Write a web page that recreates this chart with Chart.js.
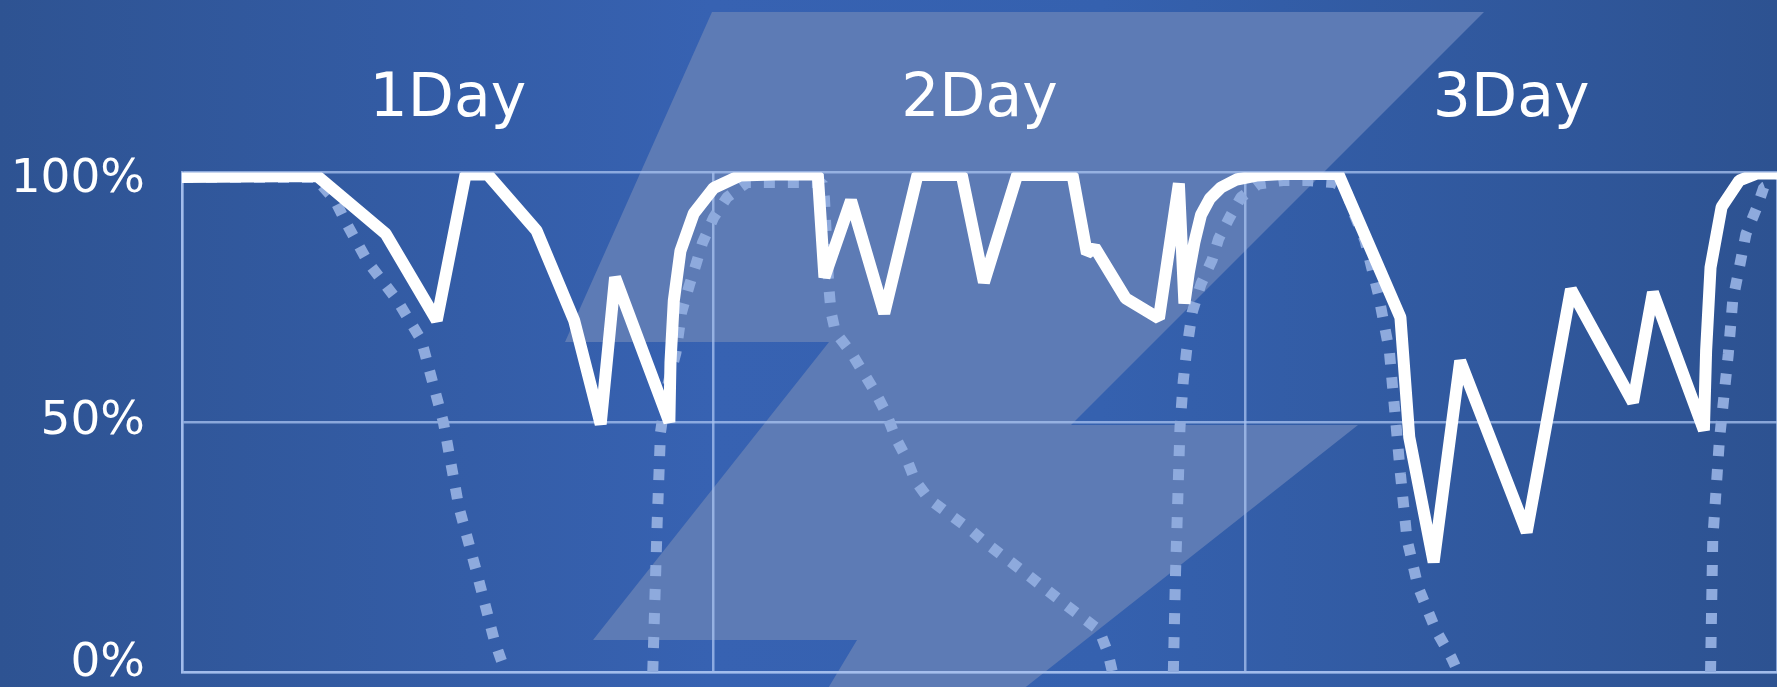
<!DOCTYPE html>
<html lang="en">
<head>
  <meta charset="UTF-8">
  <meta name="viewport" content="width=device-width, initial-scale=1.0">
  <title>Chart</title>
  <script src="https://cdn.jsdelivr.net/npm/chart.js@4.4.1/dist/chart.umd.min.js"></script>
  <style>
    html, body {
      margin: 0;
      padding: 0;
      overflow: hidden;
      background: #30579a;
    }
    .container {
      position: relative;
      width: 1777px;
      height: 687px;
    }
  </style>
</head>
<body>

  <div class="container"><canvas id="chart"></canvas></div>

  <script>
    // day headers and axis ticks
    var dayLabels = ['1Day', '2Day', '3Day'];
    var dayCenters = [12, 36, 60];
    var dayBounds = [0, 24, 48, 72];
    var percentTicks = [0, 50, 100];

    // solid white series (hours, %)
    var solidHours = [0, 6.1, 9.2, 11.5, 12.8, 13.8, 16.0, 17.7, 18.9, 19.55,
      22.0, 22.05, 22.2, 22.5, 23.1, 24.0, 25.2, 26.7, 28.7, 29.0,
      30.2, 31.7, 33.2, 35.2, 36.2, 37.7, 40.2, 40.85, 41.2, 42.6,
      44.1, 45.0, 45.25, 45.45, 45.7, 46.0, 46.4, 46.9, 47.6, 48.5,
      49.7, 52.2, 55.0, 55.4, 56.5, 57.7, 60.7, 62.7, 65.5, 66.4,
      68.7, 68.8, 69.0, 69.5, 70.3, 71.1, 72];
    var solidValues = [99.1, 99.3, 87.7, 70.4, 99.6, 99.6, 88.4, 70.4, 49.6, 79,
      50, 62, 74.3, 84.3, 91.8, 96.9, 99.4, 99.6, 99.6, 79,
      94.4, 71.8, 99.5, 99.5, 78, 99.5, 99.5, 83.8, 85, 74.8,
      70.8, 97.8, 73.8, 80, 86, 91.5, 94.8, 97, 98.6, 99.4,
      99.7, 99.7, 71, 47, 22, 62.3, 28, 76.6, 54, 76,
      48.4, 64.3, 81, 93.1, 98.4, 99.8, 99.8];

    // dotted light blue series (hours, %), null = not drawn
    var dottedHours = [0, 6.0, 6.9, 7.4, 8.4, 9.7, 10.8, 11.8, 12.5, 13.3,
      14.1, 14.6, 18, 21.25, 21.45, 21.6, 21.9, 22.3, 22.55, 22.9,
      23.2, 23.5, 24.0, 24.6, 25.5, 28.9, 29.0, 29.2, 29.3, 29.5,
      30.2, 31.3, 31.8, 32.2, 32.7, 33.1, 33.7, 34.6, 35.5, 36.3,
      38.1, 40.0, 41.4, 41.8, 42.0, 43.5, 44.75, 44.85, 45.05, 45.2,
      45.35, 45.6, 46.0, 46.5, 46.8, 47.3, 47.8, 48.6, 49.7, 50.8,
      52.0, 52.5, 52.9, 53.4, 53.7, 54.0, 54.5, 54.8, 55.0, 55.3,
      55.8, 56.6, 57.3, 57.6, 63, 69.0, 69.1, 69.4, 69.8, 70.0,
      70.6, 71.1, 71.4, 72];
    var dottedValues = [99, 99, 94.5, 90, 82, 74.5, 66.5, 50, 33, 20,
      6.3, 0, null, 0, 30, 48, 57, 64, 72, 77.4,
      81.6, 86, 91, 95, 98, 98, 95, 77, 72, 68,
      64, 56, 51.7, 47, 42.8, 38.3, 34.7, 31.7, 28.8, 25.8,
      19.7, 13.1, 8.4, 3.8, 0, null, 0, 20, 49, 58.4,
      64.4, 72, 77.7, 82.5, 86.8, 91.1, 95, 97.7, 98.4, 98.4,
      98, 97, 91.8, 86.4, 81, 75.7, 64.3, 49.6, 39.7, 26.5,
      17, 8.4, 2.9, 0, null, 0, 26.5, 46.4, 63.6, 74.3,
      87.7, 93.1, 97, 98];

    function toPoints(xs, ys){
      return xs.map(function(x, i){ return { x: x, y: ys[i] }; });
    }

    function fixTicks(values){
      return function(scale){
        scale.ticks = values.map(function(v){ return { value: v }; });
      };
    }

    // blue backdrop with the light bolt behind the plot
    var bolt = [[712, 12], [1484, 12], [1071, 425], [1358, 425], [1003, 705],
      [818, 705], [857, 640], [593, 640], [829, 342], [565, 342]];

    var backdrop = {
      id: 'backdrop',
      beforeDraw: function(chart){
        var ctx = chart.ctx, w = chart.width, h = chart.height;
        var g = ctx.createLinearGradient(0, 0, w, 0);
        g.addColorStop(0, '#2e5392');
        g.addColorStop(0.4, '#3762b2');
        g.addColorStop(0.62, '#3561af');
        g.addColorStop(1, '#2d5291');

        ctx.save();
        ctx.fillStyle = g;
        ctx.fillRect(0, 0, w, h);
        ctx.fillStyle = '#5d7bb5';
        ctx.beginPath();
        bolt.forEach(function(p, i){
          if(i) ctx.lineTo(p[0], p[1]); else ctx.moveTo(p[0], p[1]);
        });
        ctx.closePath();
        ctx.fill();
        ctx.restore();
      }
    };

    var gridColor = 'rgba(170, 195, 240, 0.75)';

    Chart.defaults.font.family = '"DejaVu Sans", sans-serif';
    Chart.defaults.color = '#ffffff';

    new Chart(document.getElementById('chart'), {
      type: 'line',
      data: {
        datasets: [{
          data: toPoints(solidHours, solidValues),
          borderColor: '#ffffff',
          borderWidth: 12,
          borderJoinStyle: 'bevel',
          borderCapStyle: 'butt',
          pointRadius: 0,
          tension: 0,
          order: 1
        }, {
          data: toPoints(dottedHours, dottedValues),
          borderColor: '#8eaadd',
          borderWidth: 11,
          borderDash: [11, 13],
          borderJoinStyle: 'bevel',
          borderCapStyle: 'butt',
          pointRadius: 0,
          tension: 0,
          spanGaps: false,
          order: 2
        }]
      },
      options: {
        responsive: true,
        maintainAspectRatio: false,
        animation: false,
        events: [],
        layout: { padding: { top: 27.5, bottom: 15, left: 0, right: 0 } },
        plugins: {
          legend: { display: false },
          tooltip: { enabled: false }
        },
        scales: {
          x: {
            type: 'linear',
            min: 0,
            max: 72,
            afterBuildTicks: fixTicks(dayBounds),
            grid: { color: gridColor, lineWidth: 2.5, drawTicks: false },
            border: { color: gridColor, width: 2.5 },
            ticks: { display: false }
          },
          days: {
            type: 'linear',
            position: 'top',
            min: 0,
            max: 72,
            afterBuildTicks: fixTicks(dayCenters),
            grid: { display: false, drawTicks: false },
            border: { display: false },
            ticks: {
              color: '#ffffff',
              padding: 36.5,
              maxRotation: 0,
              autoSkip: false,
              font: { size: 60, lineHeight: 1.2 },
              callback: function(v, i){ return dayLabels[i]; }
            }
          },
          y: {
            min: 0,
            max: 100,
            afterBuildTicks: fixTicks(percentTicks),
            afterFit: function(scale){
              scale.width = 182;
              scale.paddingTop = 0;
              scale.paddingBottom = 0;
            },
            grid: { color: gridColor, lineWidth: 2.5, drawTicks: false },
            border: { color: gridColor, width: 2.5 },
            ticks: {
              color: '#ffffff',
              padding: 37,
              font: { size: 47, lineHeight: 0.33 },
              // end labels sit a little inside the plot, as in the original
              callback: function(v, i, ticks){
                var text = v + '%';
                if(i === 0) return [text, ''];
                if(i === ticks.length - 1) return ['', text];
                return text;
              }
            }
          }
        }
      },
      plugins: [backdrop]
    });
  </script>

</body>
</html>
